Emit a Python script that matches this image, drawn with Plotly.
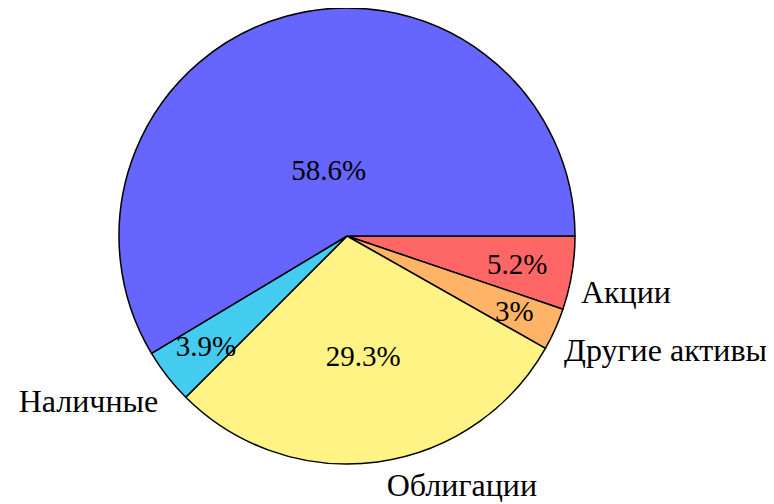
import plotly.graph_objects as go

labels = ["Акции", "Другие активы", "Облигации", "Наличные", "Прочее"]
values = [5.2, 3.0, 29.3, 3.9, 58.6]
outside_text = ["Акции", "Другие активы", "Облигации", "Наличные", ""]
colors = ["#FF6666", "#FFB366", "#FFF385", "#44CCF0", "#6666FF"]

FONT = "Liberation Serif"
W, H = 774, 504
CX, CY, R = 339, 228, 228


def dom(cx, cy, r):
    return dict(x=[(cx - r) / W, (cx + r) / W], y=[(H - cy - r) / H, (H - cy + r) / H])


def only(tpl, keep):
    return [tpl if i in keep else "" for i in range(len(values))]


common = dict(labels=labels, values=values, sort=False, direction="clockwise",
              rotation=90, showlegend=False, automargin=False)
clear = dict(colors=["rgba(0,0,0,0)"] * len(values), line=dict(width=0))
pct_font = dict(family=FONT, size=29, color="black")
lab_font = dict(family=FONT, size=32, color="black")

fig = go.Figure()
# coloured slices
fig.add_trace(go.Pie(
    **common, domain=dom(CX, CY, R),
    marker=dict(colors=colors, line=dict(color="black", width=1.5)),
    textinfo="none", hoverinfo="label+percent",
))
# percentages of the small slices
fig.add_trace(go.Pie(
    **common, domain=dom(CX, CY, R * 0.88), marker=clear,
    texttemplate=only("%{percent}", {0, 1, 3}),
    textposition="inside", insidetextorientation="horizontal",
    textfont=pct_font, hoverinfo="skip",
))
# percentage of the bonds slice
fig.add_trace(go.Pie(
    **common, domain=dom(CX, CY, R * 0.95), marker=clear,
    texttemplate=only("%{percent}", {2}),
    textposition="inside", insidetextorientation="horizontal",
    textfont=pct_font, hoverinfo="skip",
))
# percentage of the largest slice
fig.add_trace(go.Pie(
    **common, domain=dom(CX, CY, R * 0.6), marker=clear,
    texttemplate=only("%{percent}", {4}),
    textposition="inside", insidetextorientation="horizontal",
    textfont=pct_font, hoverinfo="skip",
))
# outside category labels (side labels)
fig.add_trace(go.Pie(
    **common, domain=dom(CX, CY + 18, R), marker=clear,
    text=outside_text, texttemplate=only("%{text}", {0, 1, 3}),
    textposition="outside", textfont=lab_font, hoverinfo="skip",
))
# outside category label (bottom)
fig.add_trace(go.Pie(
    **common, domain=dom(CX, CY + 5, R), marker=clear,
    text=outside_text, texttemplate=only("%{text}", {2}),
    textposition="outside", textfont=lab_font, hoverinfo="skip",
))
fig.update_layout(
    width=W, height=H,
    margin=dict(l=0, r=0, t=0, b=0, autoexpand=False),
    paper_bgcolor="white", plot_bgcolor="white",
    uniformtext=dict(minsize=29, mode="show"),
    font=dict(family=FONT),
)
fig.write_html("out.html")
